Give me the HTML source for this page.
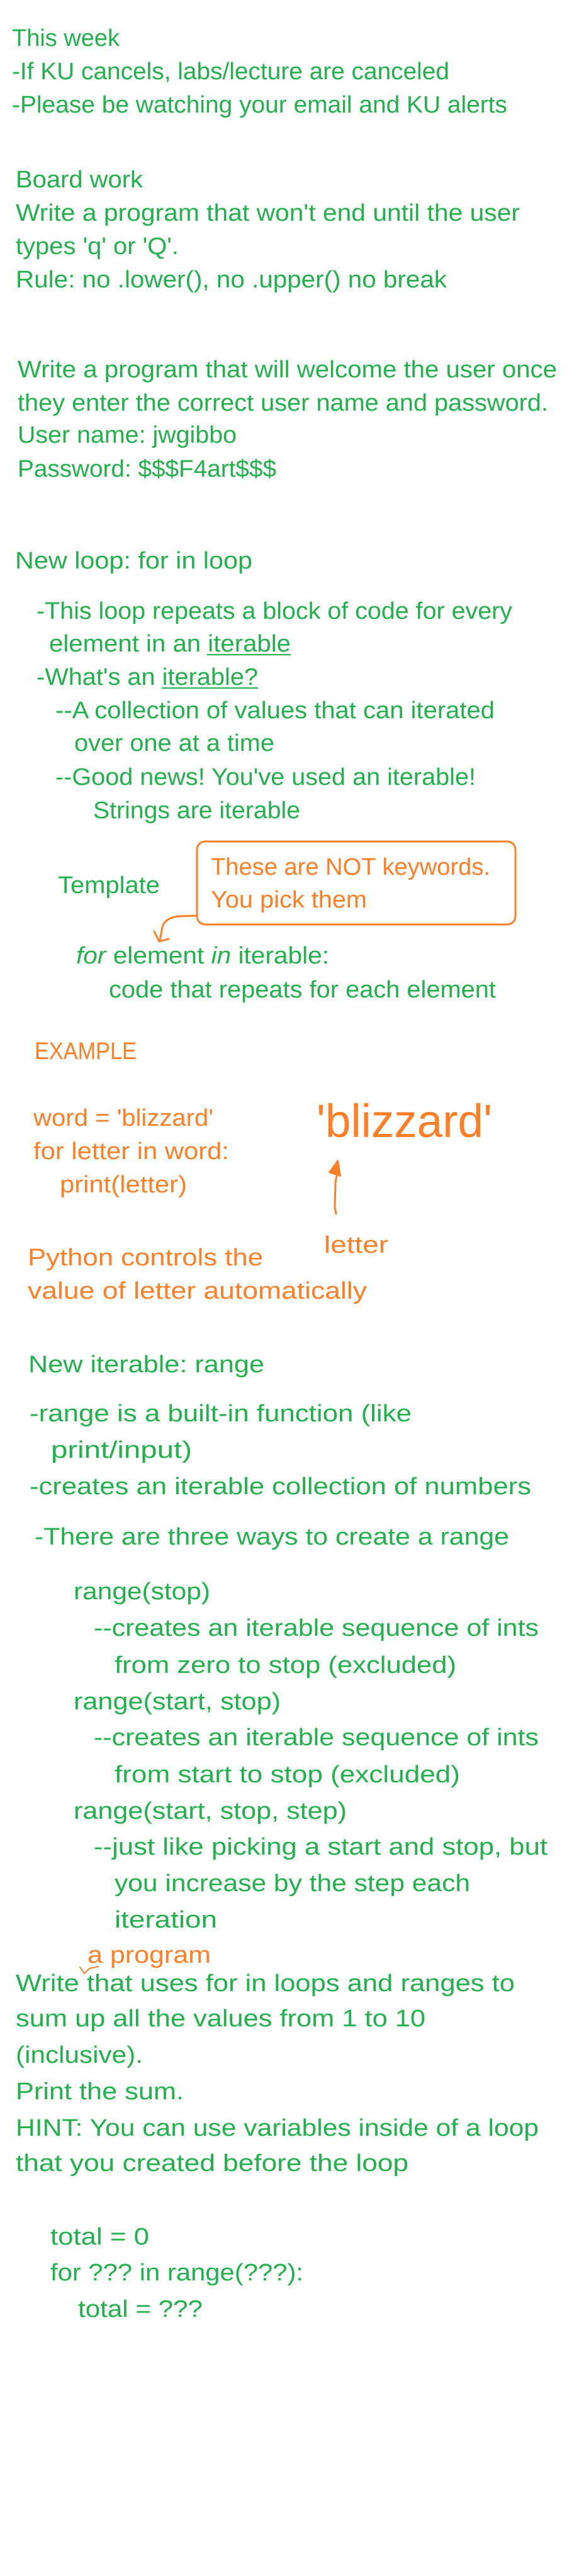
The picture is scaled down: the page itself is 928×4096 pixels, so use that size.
<!DOCTYPE html>
<html><head><meta charset="utf-8"><style>
html,body{margin:0;padding:0;background:#fff;}
svg{display:block;}
text{font-family:"Liberation Sans",sans-serif;font-size:38px;}
.g{fill:#22b14c;}
.o{fill:#ff7f27;}
</style></head><body>
<svg width="928" height="4096" viewBox="0 0 928 4096" xmlns="http://www.w3.org/2000/svg">
<rect width="928" height="4096" fill="#fff"/>
<g class="g" lengthAdjust="spacingAndGlyphs">
<text class="g" x="19" y="73" textLength="171" lengthAdjust="spacingAndGlyphs">This week</text>
<text class="g" x="19" y="126" textLength="695" lengthAdjust="spacingAndGlyphs">-If KU cancels, labs/lecture are canceled</text>
<text class="g" x="19" y="179" textLength="787" lengthAdjust="spacingAndGlyphs">-Please be watching your email and KU alerts</text>
<text class="g" x="25" y="298" textLength="202" lengthAdjust="spacingAndGlyphs">Board work</text>
<text class="g" x="25" y="351" textLength="801" lengthAdjust="spacingAndGlyphs">Write a program that won't end until the user</text>
<text class="g" x="25" y="404" textLength="259" lengthAdjust="spacingAndGlyphs">types 'q' or 'Q'.</text>
<text class="g" x="25" y="457" textLength="685" lengthAdjust="spacingAndGlyphs">Rule: no .lower(), no .upper()  no break</text>
<text class="g" x="28" y="600" textLength="857" lengthAdjust="spacingAndGlyphs">Write a program that will welcome the user once</text>
<text class="g" x="28" y="653" textLength="843" lengthAdjust="spacingAndGlyphs">they enter the correct user name and password.</text>
<text class="g" x="28" y="704" textLength="348" lengthAdjust="spacingAndGlyphs">User name: jwgibbo</text>
<text class="g" x="28" y="758" textLength="411" lengthAdjust="spacingAndGlyphs">Password: $$$F4art$$$</text>

<text class="g" x="24" y="904" textLength="377" lengthAdjust="spacingAndGlyphs">New loop:  for in loop</text>
<text class="g" x="58" y="984" textLength="756" lengthAdjust="spacingAndGlyphs">-This loop repeats a block of code for every</text>
<text class="g" x="78" y="1036" textLength="384" lengthAdjust="spacingAndGlyphs">element in an iterable</text>
<text class="g" x="58" y="1089" textLength="352" lengthAdjust="spacingAndGlyphs">-What's an iterable?</text>
<text class="g" x="88" y="1142" textLength="698" lengthAdjust="spacingAndGlyphs">--A collection of values that can iterated</text>
<text class="g" x="118" y="1194" textLength="318" lengthAdjust="spacingAndGlyphs">over one at a time</text>
<text class="g" x="88" y="1248" textLength="668" lengthAdjust="spacingAndGlyphs">--Good news! You've used an iterable!</text>
<text class="g" x="148" y="1301" textLength="329" lengthAdjust="spacingAndGlyphs">Strings are iterable</text>
<text class="g" x="92" y="1420" textLength="162" lengthAdjust="spacingAndGlyphs">Template</text>
<text class="g" x="121" y="1532" textLength="402" lengthAdjust="spacingAndGlyphs"><tspan font-style="italic">for</tspan> element <tspan font-style="italic">in</tspan> iterable:</text>
<text class="g" x="173" y="1586" textLength="615" lengthAdjust="spacingAndGlyphs">code that repeats for each element</text>

<text class="g" x="45" y="2182" textLength="375" lengthAdjust="spacingAndGlyphs">New iterable: range</text>
<text class="g" x="47" y="2260" textLength="607" lengthAdjust="spacingAndGlyphs">-range is a built-in function (like</text>
<text class="g" x="81" y="2318" textLength="224" lengthAdjust="spacingAndGlyphs">print/input)</text>
<text class="g" x="47" y="2376" textLength="797" lengthAdjust="spacingAndGlyphs">-creates an iterable collection of numbers</text>
<text class="g" x="55" y="2456" textLength="754" lengthAdjust="spacingAndGlyphs">-There are three ways to create a range</text>
<text class="g" x="117" y="2543" textLength="217" lengthAdjust="spacingAndGlyphs">range(stop)</text>
<text class="g" x="149" y="2601" textLength="707" lengthAdjust="spacingAndGlyphs">--creates an iterable sequence of ints</text>
<text class="g" x="182" y="2660" textLength="543" lengthAdjust="spacingAndGlyphs">from zero to stop (excluded)</text>
<text class="g" x="117" y="2718" textLength="329" lengthAdjust="spacingAndGlyphs">range(start, stop)</text>
<text class="g" x="149" y="2775" textLength="707" lengthAdjust="spacingAndGlyphs">--creates an iterable sequence of ints</text>
<text class="g" x="182" y="2834" textLength="549" lengthAdjust="spacingAndGlyphs">from start to stop (excluded)</text>
<text class="g" x="117" y="2892" textLength="434" lengthAdjust="spacingAndGlyphs">range(start, stop, step)</text>
<text class="g" x="149" y="2949" textLength="721" lengthAdjust="spacingAndGlyphs">--just like picking a start and stop, but</text>
<text class="g" x="182" y="3007" textLength="565" lengthAdjust="spacingAndGlyphs">you increase by the step each</text>
<text class="g" x="182" y="3065" textLength="163" lengthAdjust="spacingAndGlyphs">iteration</text>
<text class="g" x="25" y="3166" textLength="793" lengthAdjust="spacingAndGlyphs">Write that uses for in loops and ranges to</text>
<text class="g" x="25" y="3222" textLength="651" lengthAdjust="spacingAndGlyphs">sum up all the values from 1 to 10</text>
<text class="g" x="25" y="3280" textLength="202" lengthAdjust="spacingAndGlyphs">(inclusive).</text>
<text class="g" x="25" y="3338" textLength="267" lengthAdjust="spacingAndGlyphs">Print the sum.</text>
<text class="g" x="25" y="3396" textLength="831" lengthAdjust="spacingAndGlyphs">HINT: You can use variables inside of a loop</text>
<text class="g" x="25" y="3452" textLength="624" lengthAdjust="spacingAndGlyphs">that you created before the loop</text>
<text class="g" x="80" y="3569" textLength="157" lengthAdjust="spacingAndGlyphs">total = 0</text>
<text class="g" x="80" y="3626" textLength="402" lengthAdjust="spacingAndGlyphs">for ??? in range(???):</text>
<text class="g" x="124" y="3684" textLength="198" lengthAdjust="spacingAndGlyphs">total = ???</text>
</g>
<line x1="329" y1="1041" x2="462" y2="1041" stroke="#22b14c" stroke-width="2"/>
<line x1="257" y1="1094" x2="410" y2="1094" stroke="#22b14c" stroke-width="2"/>

<!-- orange elements -->
<rect x="313" y="1338" width="506" height="132" rx="13" ry="13" fill="none" stroke="#ff7f27" stroke-width="3"/>
<text class="o" x="335" y="1391" textLength="444" lengthAdjust="spacingAndGlyphs">These are NOT keywords.</text>
<text class="o" x="335" y="1443" textLength="248" lengthAdjust="spacingAndGlyphs">You pick them</text>
<path d="M313 1456 L282 1457 Q262 1460 258 1474 L254 1496" fill="none" stroke="#ff7f27" stroke-width="3" stroke-linecap="round"/>
<path d="M245 1481 L253 1497 L268 1493" fill="none" stroke="#ff7f27" stroke-width="3" stroke-linecap="round" stroke-linejoin="round"/>

<text class="o" x="55" y="1684" textLength="162" lengthAdjust="spacingAndGlyphs">EXAMPLE</text>
<text class="o" x="53" y="1790" textLength="286" lengthAdjust="spacingAndGlyphs">word = 'blizzard'</text>
<text class="o" x="53" y="1843" textLength="311" lengthAdjust="spacingAndGlyphs">for letter in word:</text>
<text class="o" x="95" y="1896" textLength="202" lengthAdjust="spacingAndGlyphs">print(letter)</text>
<text class="o" x="503" y="1808" style="font-size:74px" textLength="279" lengthAdjust="spacingAndGlyphs">'blizzard'</text>
<path d="M534 1930 L532 1920 L533 1880 L535 1870" fill="none" stroke="#ff7f27" stroke-width="3" stroke-linecap="round"/>
<path d="M523 1864 L537 1845 L541 1870 Z" fill="#ff7f27" stroke="#ff7f27" stroke-width="2" stroke-linejoin="round"/>
<text class="o" x="515" y="1992" textLength="102" lengthAdjust="spacingAndGlyphs">letter</text>
<text class="o" x="44" y="2012" textLength="374" lengthAdjust="spacingAndGlyphs">Python controls the</text>
<text class="o" x="44" y="2065" textLength="539" lengthAdjust="spacingAndGlyphs">value of letter automatically</text>
<text class="o" x="139" y="3121" textLength="196" lengthAdjust="spacingAndGlyphs">a program</text>
<path d="M127 3128 L134 3138 L142 3130 L156 3127" fill="none" stroke="#ff7f27" stroke-width="2" stroke-linecap="round"/>
</svg>
</body></html>
